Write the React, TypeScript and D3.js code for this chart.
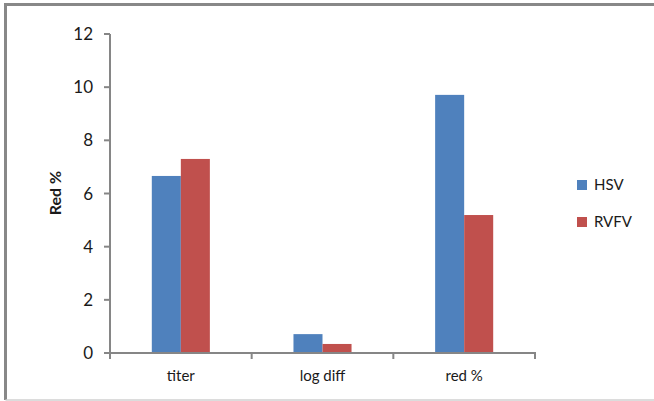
import React from "react";
import * as d3 from "d3";

const categories = ["titer", "log diff", "red %"];
const seriesNames = ["HSV", "RVFV"];
const hsvValues = [6.66, 0.71, 9.71];
const rvfvValues = [7.3, 0.34, 5.19];
const yTicks = [0, 2, 4, 6, 8, 10, 12];
const colors = ["#4F81BD", "#C0504D"];

const W = 654;
const H = 401;
const plot = { left: 110, right: 535, top: 34, bottom: 353 };
const FONT = "Lato, 'Open Sans', sans-serif";

export default function App() {
  const x = d3.scaleBand<string>().domain(categories).range([plot.left, plot.right]).paddingInner(0).paddingOuter(0);
  const y = d3.scaleLinear().domain([0, 12]).range([plot.bottom, plot.top]);
  const inner = d3
    .scaleBand<string>()
    .domain(seriesNames)
    .range([0, x.bandwidth()])
    .paddingInner(0)
    .paddingOuter(1.44);
  const series = [hsvValues, rvfvValues];
  const axisColor = "#868686";

  return (
    <svg width={W} height={H} style={{ position: "absolute", left: 0, top: 0 }}>
      <rect x={0} y={0} width={W} height={H} fill="#fff" />
      {/* outer frame */}
      <line x1={5.5} y1={4.5} x2={W} y2={4.5} stroke="#888" strokeWidth={3} />
      <line x1={5.5} y1={3} x2={5.5} y2={400} stroke="#888" strokeWidth={3} />
      <line x1={5.5} y1={400} x2={W} y2={400} stroke="#d0d0d0" strokeWidth={1.5} />

      {/* bars */}
      {series.map((vals, si) =>
        categories.map((c, ci) => (
          <rect
            key={`${si}-${ci}`}
            x={(x(c) as number) + (inner(seriesNames[si]) as number)}
            y={y(vals[ci])}
            width={inner.bandwidth()}
            height={y(0) - y(vals[ci])}
            fill={colors[si]}
          />
        ))
      )}

      {/* y axis */}
      <line x1={plot.left} y1={plot.top} x2={plot.left} y2={plot.bottom} stroke={axisColor} strokeWidth={2} />
      {yTicks.map((t) => (
        <g key={t}>
          <line x1={plot.left - 6} x2={plot.left} y1={y(t)} y2={y(t)} stroke={axisColor} strokeWidth={2} />
          <text x={93} y={y(t)} dy="0.36em" textAnchor="end" fontFamily={FONT} fontSize={17} fill="#1a1a1a">
            {t}
          </text>
        </g>
      ))}

      {/* x axis */}
      <line x1={plot.left - 6} x2={plot.right + 1} y1={plot.bottom} y2={plot.bottom} stroke={axisColor} strokeWidth={2} />
      {[...categories.map((c) => x(c) as number), plot.right].map((px, i) => (
        <line key={i} x1={px} x2={px} y1={plot.bottom} y2={plot.bottom + 6} stroke={axisColor} strokeWidth={2} />
      ))}
      {categories.map((c) => (
        <text
          key={c}
          x={(x(c) as number) + x.bandwidth() / 2}
          y={381}
          textAnchor="middle"
          fontFamily={FONT}
          fontSize={15}
          fill="#1a1a1a"
        >
          {c}
        </text>
      ))}

      {/* y label */}
      <text
        transform={`translate(61,193) rotate(-90)`}
        textAnchor="middle"
        fontFamily={FONT}
        fontSize={16}
        fontWeight="bold"
        fill="#1a1a1a"
      >
        Red %
      </text>

      {/* legend */}
      {seriesNames.map((s, i) => (
        <g key={s} transform={`translate(577,${180 + i * 37})`}>
          <rect x={0} y={0} width={10} height={10} fill={colors[i]} />
          <text x={17} y={5} dy="0.36em" fontFamily={FONT} fontSize={15} fill="#1a1a1a">
            {s}
          </text>
        </g>
      ))}
    </svg>
  );
}
